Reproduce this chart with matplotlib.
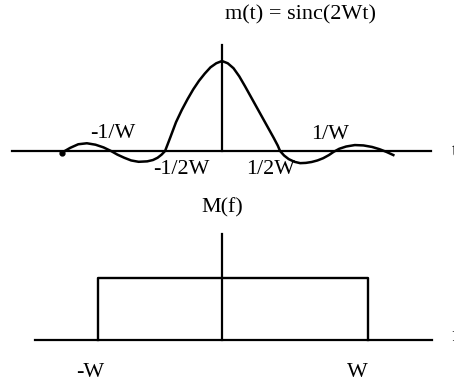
import matplotlib
matplotlib.use('Agg')
import matplotlib.pyplot as plt

plt.rcParams['font.family'] = ['Liberation Serif', 'DejaVu Serif']

# m(t): points (t in units of 1/2W)
t_vals = [-2.79, -2.64, -2.50, -2.35, -2.20, -2.06, -1.93, -1.82, -1.70,
          -1.58, -1.45, -1.30, -1.20, -1.12, -1.05, -0.99, -0.90, -0.80,
          -0.70, -0.60, -0.50, -0.40, -0.30, -0.20, -0.10, 0.0,
          0.10, 0.20, 0.30, 0.40, 0.50, 0.60, 0.70, 0.80, 0.90, 0.97, 1.01,
          1.08, 1.16, 1.26, 1.36, 1.46, 1.56, 1.66, 1.76, 1.86, 1.94,
          2.04, 2.16, 2.31, 2.46, 2.61, 2.74, 2.86, 2.98]
m_vals = [-0.02, 0.035, 0.075, 0.086, 0.07, 0.04, 0.0, -0.04, -0.075,
          -0.105, -0.12, -0.115, -0.10, -0.075, -0.04, 0.0, 0.15, 0.32,
          0.455, 0.575, 0.685, 0.78, 0.86, 0.93, 0.975, 1.0,
          0.975, 0.92, 0.83, 0.72, 0.605, 0.49, 0.375, 0.26, 0.145, 0.06, 0.0,
          -0.05, -0.09, -0.12, -0.135, -0.132, -0.122, -0.105, -0.08, -0.045, -0.01,
          0.025, 0.05, 0.066, 0.062, 0.045, 0.02, -0.01, -0.045]

# M(f): rectangular spectrum (f in units of W)
f_edges = [-0.85, 1.0]
M_height = 1.0

t_labels = [("-1/W", -1.90, 0.20), ("1/W", 1.88, 0.18),
            ("-1/2W", -0.71, -0.21), ("1/2W", 0.84, -0.21)]
f_labels = [("-W", -0.90, -0.52), ("W", 0.93, -0.52)]

fig = plt.figure(figsize=(4.54, 3.83), dpi=100)
fs = 15.8

# top panel: time domain
ax1 = fig.add_axes([0, 0, 1, 1])
ax1.set_xlim(-3.861, 4.035)
ax1.set_ylim(-2.578, 1.678)
ax1.axis('off')
ax1.plot([-3.65, 3.63], [0, 0], color='black', lw=1.6)
ax1.plot([0, 0], [0, 1.18], color='black', lw=1.6)
ax1.plot(t_vals, m_vals, color='black', lw=1.8, solid_joinstyle='round')
ax1.plot(t_vals[0], m_vals[0], 'o', color='black', ms=3.5)
ax1.text(1.36, 1.51, "m(t) = sinc(2Wt)", fontsize=16, ha='center', va='center')
for txt, x, y in t_labels:
    ax1.text(x, y, txt, fontsize=fs, ha='center', va='center')
ax1.text(3.99, 0.0, "t", fontsize=fs, ha='left', va='center', clip_on=False)

# bottom panel: frequency domain
ax2 = fig.add_axes([0, 0, 1, 1])
ax2.patch.set_alpha(0)
ax2.set_xlim(-1.521, 1.589)
ax2.set_ylim(-0.694, 5.484)
ax2.axis('off')
ax2.plot([-1.28, 1.44], [0, 0], color='black', lw=1.6)
ax2.plot([0, 0], [0, 1.71], color='black', lw=1.6)
ax2.plot([f_edges[0], f_edges[0], f_edges[1], f_edges[1]],
         [0, M_height, M_height, 0], color='black', lw=1.7)
ax2.text(0, 2.13, "M(f)", fontsize=fs, ha='center', va='center')
for txt, x, y in f_labels:
    ax2.text(x, y, txt, fontsize=fs, ha='center', va='center')
ax2.text(1.57, 0.05, "f", fontsize=fs, ha='left', va='center', clip_on=False)

fig.savefig('out.png', dpi=100)
